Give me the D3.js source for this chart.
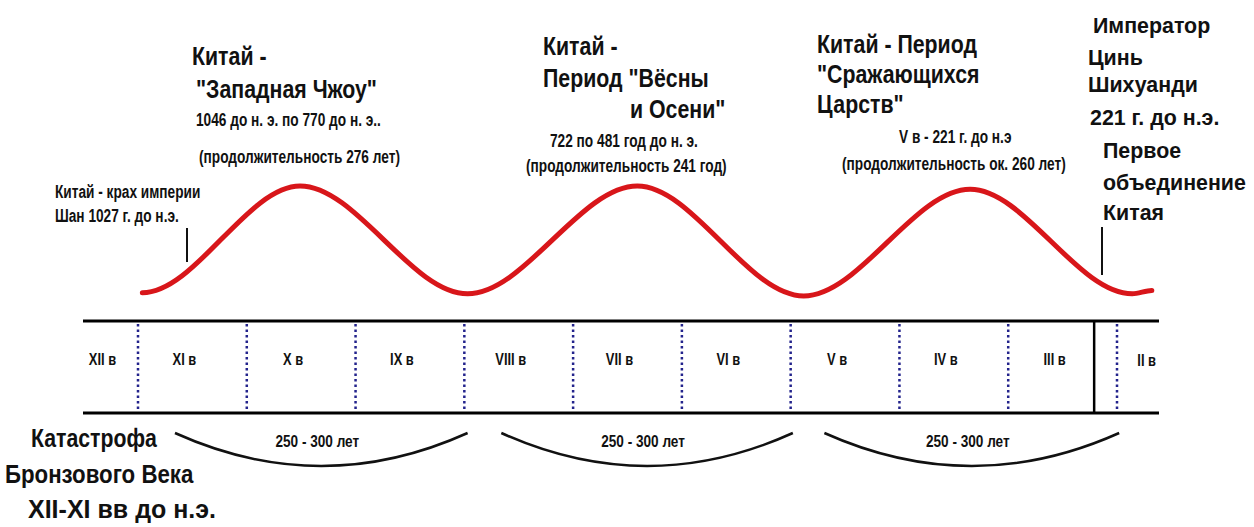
<!DOCTYPE html>
<html>
<head>
<meta charset="utf-8">
<script src="https://cdn.jsdelivr.net/npm/d3@7"></script>
<style>
  body { margin: 0; background: #fff; }
  text { font-family: "Liberation Sans", Arial, sans-serif; font-weight: bold; fill: #111; }
</style>
</head>
<body>
<div id="chart"></div>
<script>
// centuries BC shown in the band
var centuries = ["XII в", "XI в", "X в", "IX в", "VIII в", "VII в", "VI в", "V в", "IV в", "III в", "II в"];
var centuryStart = [1200, 1100, 1000, 900, 800, 700, 600, 500, 400, 300, 200];
var boundaries = [1100, 1000, 900, 800, 700, 600, 500, 400, 300, 200];
var unificationYear = 221;

// the red wave: turning points (year BC) and relative level
var waveYears = [1096, 951, 797, 641, 488, 335, 186, 168];
var waveLevels = [3, 100, 2, 100, 0, 97, 2, 5];

// arcs under the band
var arcFrom = [1066, 766, 469];
var arcTo = [797, 498, 198];
var arcLabels = ["250 - 300 лет", "250 - 300 лет", "250 - 300 лет"];

// annotation texts
var zhouTitle = ["Китай -", "\"Западная Чжоу\""];
var zhouInfo = ["1046 до н. э. по 770 до н. э..", "(продолжительность 276 лет)"];
var shangText = ["Китай - крах империи", "Шан 1027 г. до н.э."];
var springTitle = ["Китай -", "Период \"Вёсны", "и Осени\""];
var springInfo = ["722 по 481 год до н. э.", "(продолжительность 241 год)"];
var warringTitle = ["Китай - Период", "\"Сражающихся", "Царств\""];
var warringInfo = ["V в - 221 г. до н.э", "(продолжительность ок. 260 лет)"];
var qinText = ["Император", "Цинь", "Шихуанди", "221 г. до н.э.", "Первое", "объединение", "Китая"];
var catastropheText = ["Катастрофа", "Бронзового Века", "XII-XI вв до н.э."];

var W = 1254, H = 527;
var svg = d3.select("#chart").append("svg")
    .attr("width", W)
    .attr("height", H);

var x = d3.scaleLinear().domain([1100, 200]).range([138, 1117]);
var y = d3.scaleLinear().domain([0, 100]).range([296, 186]);

var bandLeft = 83, bandRight = 1159, bandTop = 321, bandBottom = 413;

// band lines
svg.selectAll(".band-line")
    .data([bandTop, bandBottom])
    .enter().append("line")
    .attr("x1", bandLeft).attr("x2", bandRight)
    .attr("y1", function(d) { return d; })
    .attr("y2", function(d) { return d; })
    .attr("stroke", "#000")
    .attr("stroke-width", 3);

// dotted century boundaries
svg.selectAll(".sep")
    .data(boundaries)
    .enter().append("line")
    .attr("x1", function(d) { return x(d); })
    .attr("x2", function(d) { return x(d); })
    .attr("y1", bandTop + 3).attr("y2", bandBottom - 2)
    .attr("stroke", "#23238c")
    .attr("stroke-width", 2.5)
    .attr("stroke-dasharray", "2.5,3");

// solid line at the unification of China
svg.append("line")
    .attr("x1", x(unificationYear)).attr("x2", x(unificationYear))
    .attr("y1", bandTop).attr("y2", bandBottom)
    .attr("stroke", "#000")
    .attr("stroke-width", 2.5);

function txt(str, px, py, size, sx, anchor) {
    return svg.append("text")
        .attr("transform", "translate(" + px + "," + py + ") scale(" + sx + ",1)")
        .attr("font-size", size)
        .attr("text-anchor", anchor || "start")
        .text(str);
}

// century labels
centuries.forEach(function(c, i) {
    var a = Math.max(x(centuryStart[i]), bandLeft);
    var b = Math.min(x(centuryStart[i] - 100), bandRight);
    if (b >= bandRight) {
        txt(c, bandRight - 3, 366, 17, 0.76, "end");
    } else {
        txt(c, (a + b) / 2 - 8, 365, 17, 0.76, "middle");
    }
});

// curve with flat tangents at every turning point (sine-like S between them)
function FlatTurns(context) { this._context = context; }
FlatTurns.prototype = {
    areaStart: function() { this._line = 0; },
    areaEnd: function() { this._line = NaN; },
    lineStart: function() { this._point = 0; },
    lineEnd: function() {
        if (this._line || (this._line !== 0 && this._point === 1)) this._context.closePath();
        this._line = 1 - this._line;
    },
    point: function(px, py) {
        px = +px; py = +py;
        if (this._point === 0) {
            this._point = 1;
            this._line ? this._context.lineTo(px, py) : this._context.moveTo(px, py);
        } else {
            this._point = 2;
            var h = (px - this._x0) / 3;
            this._context.bezierCurveTo(this._x0 + h, this._y0, px - h, py, px, py);
        }
        this._x0 = px; this._y0 = py;
    }
};
function curveFlatTurns(context) { return new FlatTurns(context); }

// wave
var wave = d3.line()
    .x(function(d) { return x(d[0]); })
    .y(function(d) { return y(d[1]); })
    .curve(curveFlatTurns);

svg.append("path")
    .datum(waveYears.map(function(yr, i) { return [yr, waveLevels[i]]; }))
    .attr("d", wave)
    .attr("fill", "none")
    .attr("stroke", "#d8161a")
    .attr("stroke-width", 5)
    .attr("stroke-linecap", "round");

// arcs
arcFrom.forEach(function(f, i) {
    var x0 = x(f), x1 = x(arcTo[i]), mid = (x0 + x1) / 2;
    svg.append("path")
        .attr("d", "M" + x0 + ",433 Q" + mid + ",499 " + x1 + ",433")
        .attr("fill", "none")
        .attr("stroke", "#111")
        .attr("stroke-width", 2.5);
    txt(arcLabels[i], mid - 4, 447, 17, 0.8, "middle");
});

// pointer ticks
svg.append("line").attr("x1", 187).attr("x2", 187).attr("y1", 228).attr("y2", 262)
    .attr("stroke", "#111").attr("stroke-width", 2);
svg.append("line").attr("x1", 1102).attr("x2", 1102).attr("y1", 227).attr("y2", 275)
    .attr("stroke", "#111").attr("stroke-width", 2);

// titles
var big = 26, bigSx = 0.82, small = 19, smallSx = 0.72;
txt(zhouTitle[0], 192, 65, big, bigSx);
txt(zhouTitle[1], 196, 98, big, bigSx);
txt(zhouInfo[0], 196, 126, small, smallSx);
txt(zhouInfo[1], 199, 163, small, smallSx);
txt(shangText[0], 55, 198, small, smallSx);
txt(shangText[1], 55, 222, small, smallSx);

txt(springTitle[0], 543, 55, big, bigSx);
txt(springTitle[1], 543, 87, big, bigSx);
txt(springTitle[2], 630, 118, big, bigSx);
txt(springInfo[0], 550, 147, small, smallSx);
txt(springInfo[1], 526, 172, small, smallSx);

txt(warringTitle[0], 817, 53, big, bigSx);
txt(warringTitle[1], 817, 83, big, bigSx);
txt(warringTitle[2], 817, 113, big, bigSx);
txt(warringInfo[0], 899, 143, small, smallSx);
txt(warringInfo[1], 842, 170, small, smallSx);

var qinX = [1093, 1088, 1088, 1090, 1103, 1103, 1103];
var qinY = [33, 65, 92, 125, 158, 190, 220];
qinText.forEach(function(t, i) { txt(t, qinX[i], qinY[i], 23, 0.93); });

var catX = [31, 5, 28];
var catY = [447, 483, 518];
var catSx = [0.85, 0.89, 1.0];
catastropheText.forEach(function(t, i) { txt(t, catX[i], catY[i], 25, catSx[i]); });
</script>
</body>
</html>
